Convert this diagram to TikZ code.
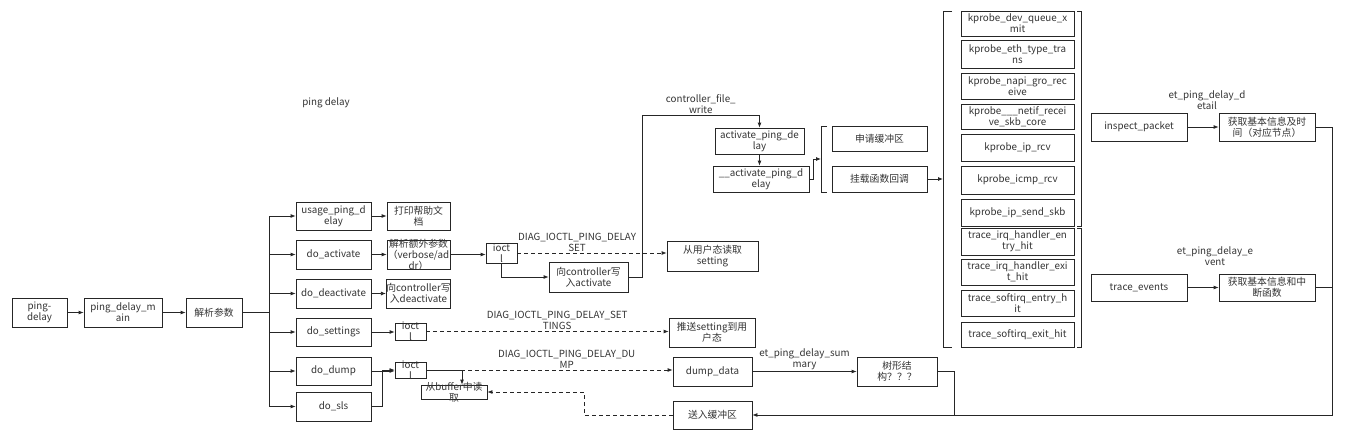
\documentclass[tikz,border=0pt]{standalone}
\usepackage{fontspec}
\setmainfont{Noto Sans CJK SC}
\usetikzlibrary{
    arrows.meta,
    positioning
}

\begin{document}
\begin{tikzpicture}[
    x=1pt, y=-1pt,
    every node/.style={font=\fontsize{9.8}{11}\selectfont, text=black!80},
    box/.style 2 args={
        draw=black!85,
        fill=white,
        line width=0.8pt,
        align=center,
        inner sep=0pt,
        minimum width=#1,
        minimum height=#2
    },
    kbox/.style={box={113}{#1}},
    over/.style={align=center, inner sep=0pt, text=black!80},
    lbl/.style={align=center, inner sep=1pt},
    wire/.style={line width=0.8pt, draw=black!85},
    arrow/.style={wire, -{Latex[length=5pt,width=4pt]}},
    dasharrow/.style={arrow, dash pattern=on 4pt off 3pt}
]
\useasboundingbox (0,0) rectangle (1362,444);

% Title
\node (title) at (326,103) {ping delay};

% Entry chain
\node[box={55}{29}] (pingdelay) at (39.5,312.5) {ping-\\delay};
\node[box={78}{29}] (pdmain) at (123,312.5) {ping\_delay\_m\\ain};
\node[box={56}{29}] (parse) at (214,312.5) {解析参数};
\coordinate (trunk) at (269,312.5);

% Sub commands
\node[box={75}{28}] (usage) at (333.5,216) {usage\_ping\_d\\elay};
\node[box={75}{29}] (doact) at (333.5,254.5) {do\_activate};
\node[box={75}{29}] (dodeact) at (333.5,293.5) {do\_deactivate};
\node[box={75}{28}] (doset) at (333.5,332) {do\_settings};
\node[box={75}{28}] (dodump) at (333.5,371) {do\_dump};
\node[box={75}{29}] (dosls) at (333.5,406.5) {do\_sls};

% Second column
\node[box={63}{28}] (helpdoc) at (418.5,216) {打印帮助文\\档};
\node[box={63}{29}, label={[over]center:解析额外参数\\（verbose/ad\\dr）}] (extra) at (418.5,254.5) {};
\node[box={63}{29}] (wdeact) at (418.5,293.5) {向controller写\\入deactivate};

% ioctl calls
\node[box={31}{20}, label={[over]center:ioct\\l}] (ioctlact) at (501.5,253) {};
\node[box={31}{17}, label={[over]center:ioct\\l}] (ioctlset) at (410.5,331.5) {};
\node[box={31}{16}, label={[over]center:ioct\\l}] (ioctldump) at (410.5,370) {};
\node[box={66}{14}, label={[over]center:从buffer中读\\取}] (readbuf) at (454,392) {};

% Kernel side
\node[box={91}{30}] (readset) at (712.5,256) {从用户态读取\\setting};
\node[box={79}{30}] (wact) at (588.5,277) {向controller写\\入activate};
\node[box={86}{29}] (pushset) at (712,332.5) {推送setting到用\\户态};
\node[box={79}{29}] (dumpdata) at (712.5,371.5) {dump\_data};
\node[box={79}{28}] (sendbuf) at (712.5,415) {送入缓冲区};
\node[box={80}{29}] (tree) at (897,371.5) {树形结\\构？？？};

% Controller
\node[box={89}{26}] (actpd) at (759.5,141) {activate\_ping\_de\\lay};
\node[box={96}{26}] (uactpd) at (761,179) {\_\_activate\_ping\_d\\elay};
\node[box={95}{25}] (allocbuf) at (879.5,138.5) {申请缓冲区};
\node[box={95}{26}] (mountcb) at (879.5,179) {挂载函数回调};

% Probes
\node[kbox=25] (kp1) at (1017.5,23.5) {kprobe\_dev\_queue\_x\\mit};
\node[kbox=28] (kp2) at (1017.5,54) {kprobe\_eth\_type\_tra\\ns};
\node[kbox=26] (kp3) at (1017.5,86) {kprobe\_napi\_gro\_rec\\eive};
\node[kbox=25] (kp4) at (1017.5,116.5) {kprobe\_\_\_netif\_recei\\ve\_skb\_core};
\node[kbox=27] (kp5) at (1017.5,147.5) {kprobe\_ip\_rcv};
\node[kbox=28] (kp6) at (1017.5,180) {kprobe\_icmp\_rcv};
\node[kbox=27] (kp7) at (1017.5,212.5) {kprobe\_ip\_send\_skb};
\node[kbox=27] (tp1) at (1017.5,241.5) {trace\_irq\_handler\_en\\try\_hit};
\node[kbox=26] (tp2) at (1017.5,272) {trace\_irq\_handler\_exi\\t\_hit};
\node[kbox=26] (tp3) at (1017.5,303) {trace\_softirq\_entry\_h\\it};
\node[kbox=25] (tp4) at (1017.5,334.5) {trace\_softirq\_exit\_hit};

% Handlers
\node[box={96}{28}] (inspect) at (1139,127) {inspect\_packet};
\node[box={96}{28}] (info1) at (1267,127) {获取基本信息及时\\间（对应节点）};
\node[box={96}{27}] (traceev) at (1139,287.5) {trace\_events};
\node[box={96}{27}] (info2) at (1267,287.5) {获取基本信息和中\\断函数};

% Brackets
\draw[wire] (827,126) -- (821,126) -- (821,192) -- (827,192);
\draw[wire] (952,11) -- (943,11) -- (943,347) -- (952,347);
\draw[wire] (1077,11) -- (1081,11) -- (1081,226) -- (1077,226);
\draw[wire] (1077,228) -- (1081,228) -- (1081,347) -- (1077,347);
\coordinate (brkA) at (821,159);
\coordinate (brkB) at (943,179);

% Helper points
\coordinate (cfw) at (642,115);
\coordinate (rail) at (1332,415);
\coordinate (join) at (954,415);
\coordinate (bend) at (584,392);

% Edges
\draw[arrow] (pingdelay) -- (pdmain);
\draw[arrow] (pdmain) -- (parse);
\draw[wire] (parse) -- (trunk);
\foreach \n in {usage,doact,dodeact,doset,dodump,dosls}
    \draw[arrow] (trunk) |- (\n.west);

\draw[arrow] (usage) -- (helpdoc);
\draw[arrow] (doact) -- (extra);
\draw[arrow] (dodeact) -- (wdeact);
\draw[arrow] (extra.east) -- (extra.east -| ioctlact.west);
\draw[arrow] (doset.east) -- (doset.east -| ioctlset.west);
\draw[arrow] (dodump.east) -- (dodump.east -| ioctldump.west);
\draw[arrow] (dosls.east) -- ++(11,0) |- (ioctldump.west);
\draw[arrow] (ioctldump.east) -| ([xshift=8pt]readbuf.north);
\draw[arrow] (ioctlact.south) |- (wact.west);

% ioctl messages
\draw[dasharrow] (ioctlact.east) -- node[pos=0.4, above, lbl] {DIAG\_IOCTL\_PING\_DELAY\\SET} (ioctlact.east -| readset.west);
\draw[dasharrow] (ioctlset.east) -- node[pos=0.54, above, lbl] {DIAG\_IOCTL\_PING\_DELAY\_SET\\TINGS} (ioctlset.east -| pushset.west);
\draw[dasharrow] (ioctldump.east) -- node[pos=0.57, above, lbl] {DIAG\_IOCTL\_PING\_DELAY\_DU\\MP} (ioctldump.east -| dumpdata.west);

% Controller write
\draw[arrow] (wact.east) -| (cfw) -| node[pos=0.25, above, lbl] {controller\_file\_\\write} (actpd.north);
\draw[arrow] (actpd.south) -- (actpd.south |- uactpd.north);
\draw[arrow] (uactpd.east) -- ++(4,0) |- (brkA);
\draw[arrow] (mountcb.east) -- (brkB);

% Data back to user
\draw[arrow] (dumpdata) -- node[above, lbl] {et\_ping\_delay\_sum\\mary} (tree);
\draw[wire] (tree.east) -| (join);
\draw[arrow] (inspect) -- node[above=16pt, lbl, xshift=4pt] {et\_ping\_delay\_d\\etail} (info1);
\draw[arrow] (traceev) -- node[above=20pt, lbl, xshift=12pt] {et\_ping\_delay\_e\\vent} (info2);
\draw[arrow] (info1.east) -| (rail) -- (sendbuf.east);
\draw[wire] (info2.east) -- (info2.east -| rail);
\draw[dasharrow] (sendbuf.west) -| (bend) -- (readbuf.east);

\end{tikzpicture}
\end{document}
